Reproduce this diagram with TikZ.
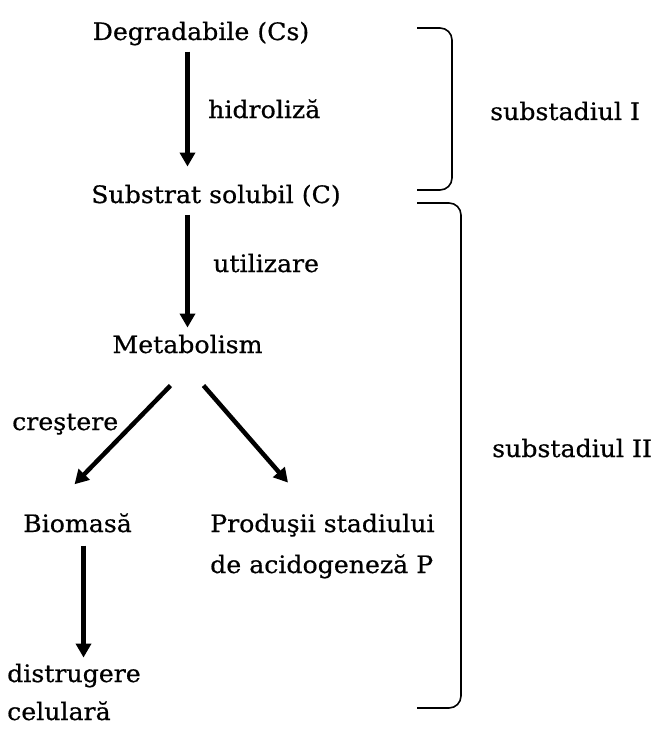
\documentclass[tikz,border=0pt]{standalone}
\usepackage{fontspec}
\setmainfont{DejaVu Serif}[FakeStretch=1.05,FakeBold=0.6]
\usetikzlibrary{arrows.meta}
\begin{document}
\begin{tikzpicture}[x=1pt,y=-1pt,
  txt/.style={inner sep=0pt,anchor=base west,font=\fontsize{24}{28}\selectfont},
  arr/.style={line width=4.5pt,-{Triangle[length=14pt,width=15pt]}},
  brace/.style={line width=1.6pt,rounded corners=12pt}]
\useasboundingbox (0,0) rectangle (656,733);
% nodes
\node[txt,anchor=base] (deg) at (201,40) {Degradabile (Cs)};
\node[txt] (hid) at (208,118) {hidroliză};
\node[txt,anchor=base] (sub) at (216,203) {Substrat solubil (C)};
\node[txt] (uti) at (213,272) {utilizare};
\node[txt,anchor=base] (met) at (187.5,353) {Metabolism};
\node[txt] (cre) at (12,430) {creştere};
\node[txt] (bio) at (23,532) {Biomasă};
\node[txt,align=left,font=\fontsize{24}{41}\selectfont] (prod) at (210,573) {Produşii stadiului\\de acidogeneză P};
\node[txt,align=left,font=\fontsize{24}{38}\selectfont] (dis) at (7,720) {distrugere\\celulară};
\node[txt] (s1) at (490,120) {substadiul I};
\node[txt] (s2) at (492,457) {substadiul II};
% connectors
\draw[arr,shorten <=6pt,shorten >=18pt] (deg.south -| met) -- (sub.north -| met);
\draw[arr,shorten <=8pt,shorten >=7pt] (sub.south -| met) -- (met.north);
\draw[arr] ([xshift=-17pt,yshift=-32pt]met.south) -- ([xshift=-3pt,yshift=29pt]bio.north);
\draw[arr] ([xshift=16pt,yshift=-32pt]met.south) -- ([xshift=78pt,yshift=31pt]prod.north west);
\draw[arr,shorten <=13pt,shorten >=6pt] ([xshift=6pt]bio.south) -- ([xshift=6pt]bio.south |- dis.north);
% braces
\draw[brace] (417,28) -- (452,28) -- (452,190) -- (417,190);
\draw[brace] (417,203) -- (461,203) -- (461,708) -- (417,708);
\end{tikzpicture}
\end{document}
